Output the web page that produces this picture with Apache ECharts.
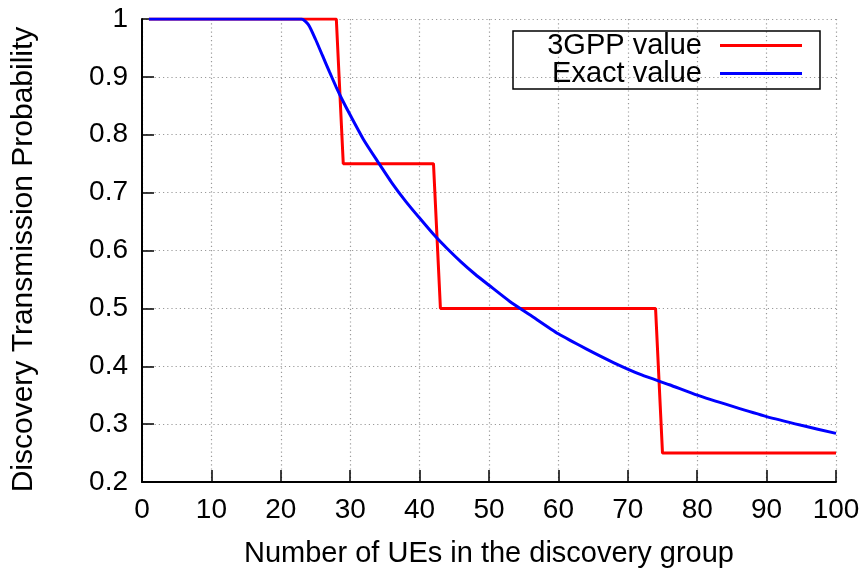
<!DOCTYPE html>
<html>
<head>
<meta charset="utf-8">
<script src="https://cdn.jsdelivr.net/npm/echarts@6/dist/echarts.min.js"></script>
<style>
  html, body { margin: 0; padding: 0; background: #fff; }
  #chart { width: 867px; height: 575px; }
</style>
</head>
<body>
<div id="chart"></div>
<script>
// 3GPP step values (probability levels by group size)
const stepX = [1, 28, 29, 42, 43, 74, 75, 100];
const stepY = [1, 1, 0.75, 0.75, 0.5, 0.5, 0.25, 0.25];

// Exact transmission probability by group size
const exactX = [1, 23, 24, 25, 26, 27, 28, 29, 30, 32, 34, 36, 38, 40, 42, 44, 46, 48, 50,
                53, 56, 60, 64, 68, 72, 76, 80, 85, 90, 95, 100];
const exactY = [1, 1, 0.990, 0.965, 0.937, 0.909, 0.882, 0.857, 0.834, 0.790, 0.753, 0.717,
                0.685, 0.656, 0.628, 0.603, 0.580, 0.559, 0.540, 0.512, 0.488, 0.456, 0.430,
                0.406, 0.385, 0.368, 0.350, 0.331, 0.313, 0.298, 0.284];

const xTicks = [0, 10, 20, 30, 40, 50, 60, 70, 80, 90, 100];
const yTicks = [0.2, 0.3, 0.4, 0.5, 0.6, 0.7, 0.8, 0.9, 1];

const seriesNames = ['3GPP value', 'Exact value'];
const seriesColors = ['#ff0000', '#0000ff'];

const pairs = (xs, ys) => xs.map((x, i) => [x, ys[i]]);

const FONT = '"Liberation Sans", Arial, Helvetica, sans-serif';
const gridLine = { show: true, lineStyle: { color: '#9a9a9a', width: 1.2, type: [1.2, 3] } };

const chart = echarts.init(document.getElementById('chart'), null, { renderer: 'canvas' });

const legendBase = {
  orient: 'vertical',
  align: 'right',
  right: 65,
  padding: 0,
  icon: 'rect',
  itemWidth: 82,
  itemHeight: 3,
  selectedMode: false,
  textStyle: { fontFamily: FONT, fontSize: 29, color: '#000', padding: [0, 13, 0, 0] }
};

chart.setOption({
  animation: false,
  backgroundColor: '#fff',
  textStyle: { fontFamily: FONT },
  grid: { left: 142, right: 31, top: 19, bottom: 93, containLabel: false },
  legend: [
    Object.assign({}, legendBase, { top: 31, data: [seriesNames[0]] }),
    Object.assign({}, legendBase, { top: 59, data: [seriesNames[1]] })
  ],
  graphic: [{
    type: 'rect',
    shape: { x: 513, y: 31, width: 307, height: 58 },
    style: { fill: 'none', stroke: '#000', lineWidth: 1.5 },
    z: 10
  }],
  xAxis: {
    type: 'value',
    min: xTicks[0],
    max: xTicks[xTicks.length - 1],
    interval: xTicks[1] - xTicks[0],
    name: 'Number of UEs in the discovery group',
    nameLocation: 'middle',
    nameGap: 57,
    nameTextStyle: { fontFamily: FONT, fontSize: 29, color: '#000' },
    axisLine: { show: true, onZero: false, lineStyle: { color: '#000', width: 2 } },
    axisTick: { show: true, inside: true, length: 12, lineStyle: { color: '#000', width: 1.5 } },
    axisLabel: { fontFamily: FONT, fontSize: 28, color: '#000', margin: 14 },
    splitLine: gridLine
  },
  yAxis: {
    type: 'value',
    min: yTicks[0],
    max: yTicks[yTicks.length - 1],
    interval: 0.1,
    name: 'Discovery Transmission Probability',
    nameLocation: 'middle',
    nameGap: 103,
    nameTextStyle: { fontFamily: FONT, fontSize: 30, color: '#000', padding: [0, 18, 0, 0] },
    axisLine: { show: true, onZero: false, lineStyle: { color: '#000', width: 2 } },
    axisTick: { show: true, inside: true, length: 12, lineStyle: { color: '#000', width: 1.5 } },
    axisLabel: {
      fontFamily: FONT, fontSize: 28, color: '#000', margin: 14,
      formatter: v => String(Math.round(v * 10) / 10)
    },
    splitLine: gridLine
  },
  series: [
    {
      name: seriesNames[0],
      type: 'line',
      data: pairs(stepX, stepY),
      symbol: 'none',
      lineStyle: { color: seriesColors[0], width: 3 },
      itemStyle: { color: seriesColors[0] },
      z: 3
    },
    {
      name: seriesNames[1],
      type: 'line',
      data: pairs(exactX, exactY),
      symbol: 'none',
      smooth: 0.2,
      lineStyle: { color: seriesColors[1], width: 3 },
      itemStyle: { color: seriesColors[1] },
      z: 4
    }
  ]
});
</script>
</body>
</html>
